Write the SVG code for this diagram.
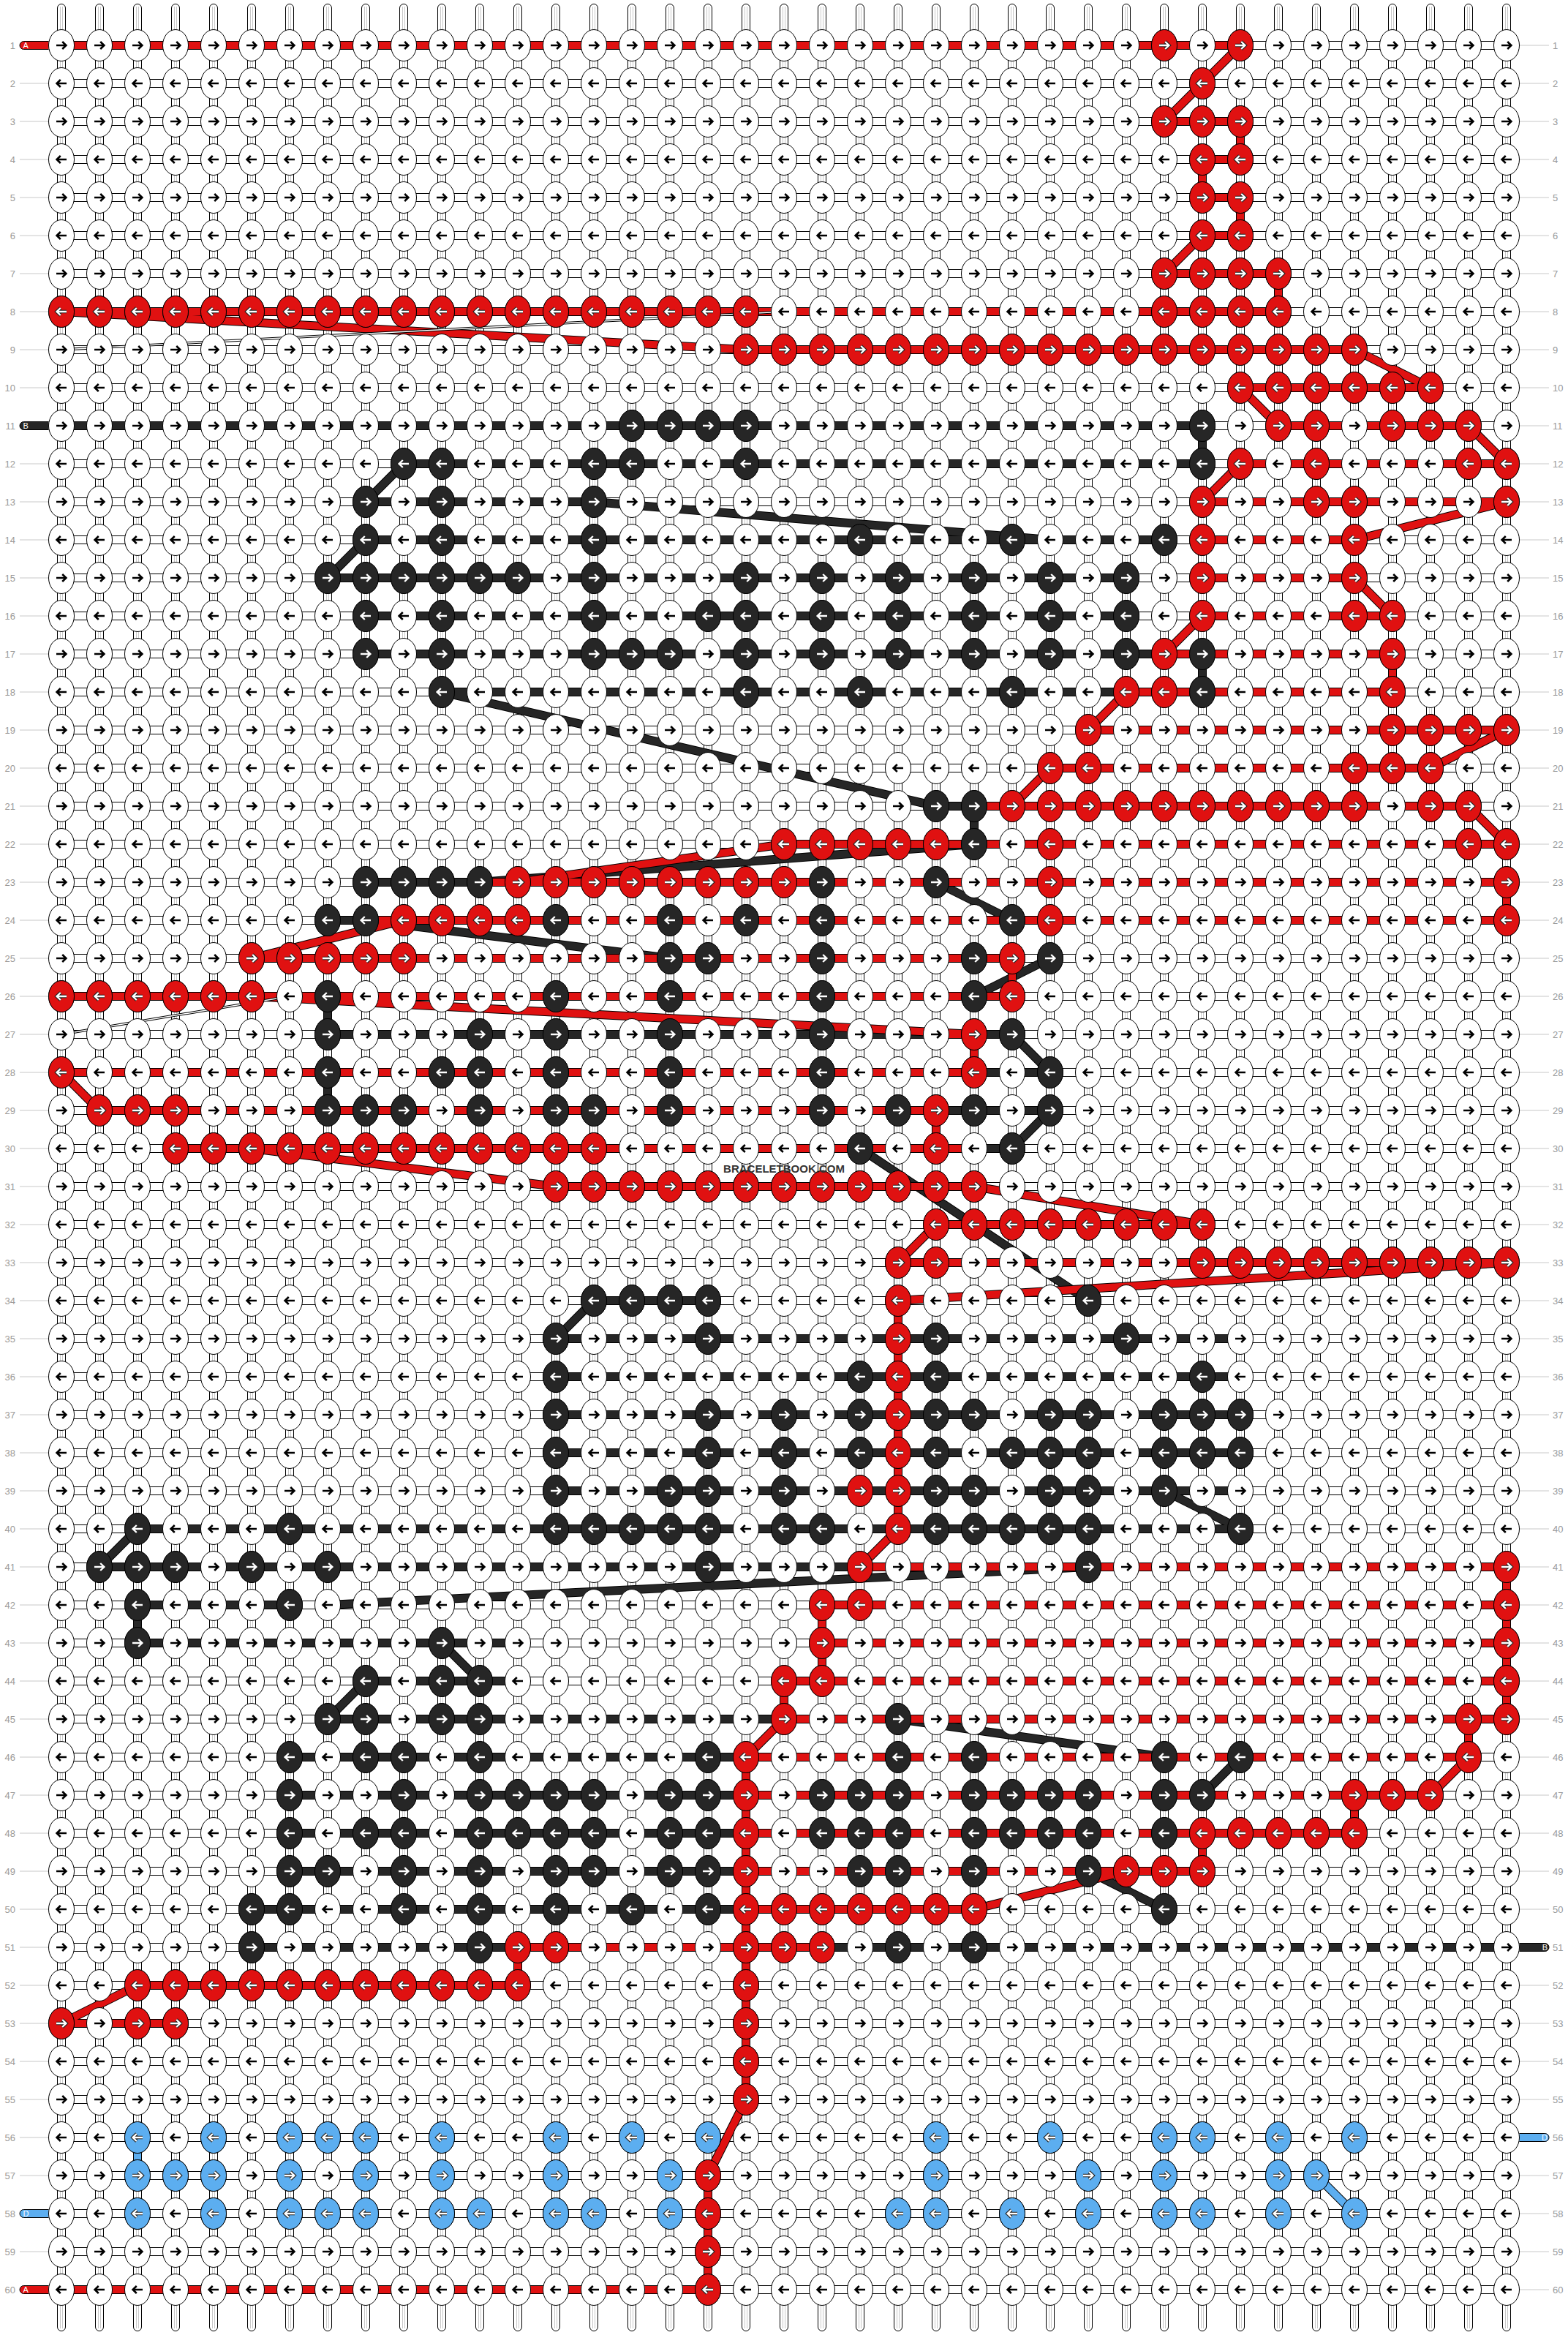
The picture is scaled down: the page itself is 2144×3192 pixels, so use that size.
<svg xmlns="http://www.w3.org/2000/svg" width="2144" height="3192" viewBox="0 0 2144 3192">
<style>
.lbl{font-family:"Liberation Sans",Arial,sans-serif;font-size:13px;fill:#9a9a9a}
.le{text-anchor:end}
.o{fill:none;stroke:#000;stroke-width:12}
.cr{fill:none;stroke:#e01111;stroke-width:10}
.ck{fill:none;stroke:#262626;stroke-width:10}
.cb{fill:none;stroke:#5caef0;stroke-width:10}
.ot{fill:none;stroke:#000;stroke-width:3.5}
.cw{fill:none;stroke:#fff;stroke-width:1.5}
.kn{stroke:#000;stroke-width:1}
.fr{fill:#e01111}.fk{fill:#262626}.fb{fill:#5caef0}
.ao{fill:none;stroke:#222;stroke-width:4.6}
.aw{fill:none;stroke:#fff;stroke-width:2.4}
.ab{fill:none;stroke:#000;stroke-width:2.6}
.tl{font-family:"Liberation Sans",Arial,sans-serif;font-size:11px;fill:#fff}
.wm{font-family:"Liberation Sans",Arial,sans-serif;font-weight:bold;font-size:15px;fill:#333;text-anchor:middle}
</style>
<defs>
<path id="ar" d="M-7,0H6M1.2,-5L6.4,0L1.2,5"/>
<path id="al" d="M7,0H-6M-1.2,-5L-6.4,0L-1.2,5"/>
<pattern id="pS" patternUnits="userSpaceOnUse" x="58" y="0" width="52" height="3192">
<rect x="20.5" y="5.5" width="11" height="3181" rx="5.5" fill="#fff" stroke="#000"/>
<path d="M24.5,9V3183M27.5,9V3183" stroke="#c8c8c8" fill="none"/>
</pattern>
<pattern id="pH" patternUnits="userSpaceOnUse" x="58" y="36" width="52" height="52">
<rect x="0" y="21" width="52" height="10" fill="#fff"/>
<path d="M0,20.5H52M0,31.5H52" stroke="#000" fill="none"/>
</pattern>
<pattern id="pK" patternUnits="userSpaceOnUse" x="58" y="36" width="52" height="104">
<ellipse cx="26" cy="26" rx="17.5" ry="21.5" fill="#fff" stroke="#000"/>
<use href="#ar" x="26" y="26" class="ab"/>
<ellipse cx="26" cy="78" rx="17.5" ry="21.5" fill="#fff" stroke="#000"/>
<use href="#al" x="26" y="78" class="ab"/>
</pattern>
<pattern id="pL" patternUnits="userSpaceOnUse" x="0" y="36" width="52" height="52">
<path d="M0,26H52" stroke="#c8c8c8" fill="none"/>
</pattern>
<g id="rR"><ellipse rx="17.5" ry="21.5" class="kn fr"/><use href="#ar" class="ao"/><use href="#ar" class="aw"/></g>
<g id="rL"><ellipse rx="17.5" ry="21.5" class="kn fr"/><use href="#al" class="ao"/><use href="#al" class="aw"/></g>
<g id="kR"><ellipse rx="17.5" ry="21.5" class="kn fk"/><use href="#ar" class="ao"/><use href="#ar" class="aw"/></g>
<g id="kL"><ellipse rx="17.5" ry="21.5" class="kn fk"/><use href="#al" class="ao"/><use href="#al" class="aw"/></g>
<g id="bR"><ellipse rx="17.5" ry="21.5" class="kn fb"/><use href="#ar" class="ao"/><use href="#ar" class="aw"/></g>
<g id="bL"><ellipse rx="17.5" ry="21.5" class="kn fb"/><use href="#al" class="ao"/><use href="#al" class="aw"/></g>
<path id="DK" d="M84,582H1644M552,634H1644M500,686H812M500,738H1592M448,790H1540M500,842H1540M500,894H1592M604,946H1540M1280,1102H1332M500,1206H656M448,1258H500M448,1414H1280M1332,1414H1384M1332,1466H1436M1280,1518H1436M1332,1570H1384M812,1778H968M760,1830H1696M760,1882H1696M760,1934H1696M760,1986H1696M760,2038H1696M188,2090H1696M136,2142H1488M188,2194H396M188,2246H708M500,2298H708M448,2350H1228M396,2402H1020M396,2454H1020M396,2506H1020M396,2558H1020M344,2610H1020M344,2662H708M1124,2662H2060M1644,582V634M1644,894V946M1332,1102V1154M448,1362V1414M448,1466V1518M188,2194V2246M500,686L552,634M448,790L500,738M812,686L1436,738M604,946L1280,1102M656,1206L1332,1154M1280,1206L1384,1258M500,1258L916,1310M1332,1362L1436,1310M1384,1414L1436,1466M1384,1570L1436,1518M1176,1570L1488,1778M760,1830L812,1778M136,2142L188,2090M448,2350L500,2298M604,2246L656,2298M448,2194L1488,2142M1592,2038L1696,2090M1644,2454L1696,2402M1488,2558L1592,2610M1228,2350L1592,2402"/>
<path id="DR" d="M84,62H1696M1592,166H1696M1644,218H1696M1644,270H1696M1644,322H1696M1592,374H1748M84,426H1748M1020,478H1852M1696,530H1956M1748,582H2008M1696,634H2060M1644,686H2060M1644,738H1852M1644,790H1852M1644,842H1904M1592,894H1904M1540,946H1904M1488,998H2060M1436,1050H1956M1332,1102H2008M1072,1154H2060M656,1206H2060M500,1258H2060M344,1310H1384M84,1362H1384M1280,1414H1332M84,1466H1332M136,1518H1280M240,1570H1332M760,1622H1332M1280,1674H1644M1228,1726H2060M1176,2142H2060M1124,2194H2060M1124,2246H2060M1072,2298H2060M1072,2350H2060M1020,2402H2008M1020,2454H1956M1020,2506H1852M1020,2558H1644M1020,2610H1332M708,2662H1124M188,2714H708M84,2766H240M84,3130H968M1696,166V218M1644,218V270M1696,270V322M1748,374V426M1904,894V946M2060,1206V1258M1384,1310V1362M1332,1414V1466M1280,1518V1570M1228,1778V2090M1124,2194V2298M1072,2298V2350M1020,2402V2870M968,2974V3130M1852,2454V2506M1644,2506V2558M2060,2142V2350M2008,2350V2402M708,2662V2714M1696,62L1644,114M1644,114L1592,166M1644,322L1592,374M84,426L1020,478M1852,478L1956,530M1696,530L1748,582M2008,582L2060,634M1644,686L1696,634M1852,738L2060,686M1852,790L1904,842M1592,894L1644,842M1488,998L1540,946M1956,1050L2060,998M1384,1102L1436,1050M2008,1102L2060,1154M708,1206L1072,1154M344,1310L552,1258M344,1362L1332,1414M84,1466L136,1518M344,1570L760,1622M1228,1726L1280,1674M1332,1622L1644,1674M2060,1726L1228,1778M1228,2090L1176,2142M1072,2350L1020,2402M2008,2402L1956,2454M1540,2558L1332,2610M84,2766L188,2714M1020,2870L968,2974"/>
<path id="DB" d="M188,2922V2974M1800,2974L1852,3026"/>
<path id="DW" d="M84,478L1072,426M84,1414L396,1362"/>
</defs>
<rect width="2144" height="3192" fill="#fff"/>
<g id="strings">
<rect x="58" y="0" width="2028" height="3192" fill="url(#pS)"/>
<rect x="67" y="36" width="2010" height="3120" fill="url(#pH)"/>
<rect x="27" y="36" width="40" height="3120" fill="url(#pL)"/>
<rect x="2077" y="36" width="41" height="3120" fill="url(#pL)"/>
</g>
<g id="connectors">
<use href="#DK" class="o"/><use href="#DK" class="ck"/>
<use href="#DR" class="o"/><use href="#DR" class="cr"/>
<use href="#DB" class="o"/><use href="#DB" class="cb"/>
<use href="#DW" class="ot"/><use href="#DW" class="cw"/>
</g>
<g id="tabs">
<path d="M66.5,56.5H32.5A5.5,5.5 0 0 0 32.5,67.5H66.5" class="kn fr"/><text x="31.5" y="66" class="tl">A</text>
<path d="M66.5,576.5H32.5A5.5,5.5 0 0 0 32.5,587.5H66.5" class="kn fk"/><text x="31.5" y="586" class="tl">B</text>
<path d="M66.5,3020.5H32.5A5.5,5.5 0 0 0 32.5,3031.5H66.5" class="kn fb"/><text x="31.5" y="3030" class="tl">D</text>
<path d="M66.5,3124.5H32.5A5.5,5.5 0 0 0 32.5,3135.5H66.5" class="kn fr"/><text x="31.5" y="3134" class="tl">A</text>
<path d="M2077.5,2656.5H2112.5A5.5,5.5 0 0 1 2112.5,2667.5H2077.5" class="kn fk"/><text x="2116" y="2666" class="tl le">B</text>
<path d="M2077.5,2916.5H2112.5A5.5,5.5 0 0 1 2112.5,2927.5H2077.5" class="kn fb"/><text x="2116" y="2926" class="tl le">D</text>
</g>
<rect x="58" y="36" width="2028" height="3120" fill="url(#pK)"/>
<g id="knots-red">
<use href="#rR" x="1592" y="62"/><use href="#rR" x="1696" y="62"/>
<use href="#rL" x="1644" y="114"/>
<use href="#rR" x="1592" y="166"/><use href="#rR" x="1644" y="166"/><use href="#rR" x="1696" y="166"/>
<use href="#rL" x="1644" y="218"/><use href="#rL" x="1696" y="218"/>
<use href="#rR" x="1644" y="270"/><use href="#rR" x="1696" y="270"/>
<use href="#rL" x="1644" y="322"/><use href="#rL" x="1696" y="322"/>
<use href="#rR" x="1592" y="374"/><use href="#rR" x="1644" y="374"/><use href="#rR" x="1696" y="374"/><use href="#rR" x="1748" y="374"/>
<use href="#rL" x="84" y="426"/><use href="#rL" x="136" y="426"/><use href="#rL" x="188" y="426"/><use href="#rL" x="240" y="426"/><use href="#rL" x="292" y="426"/><use href="#rL" x="344" y="426"/><use href="#rL" x="396" y="426"/><use href="#rL" x="448" y="426"/><use href="#rL" x="500" y="426"/><use href="#rL" x="552" y="426"/><use href="#rL" x="604" y="426"/><use href="#rL" x="656" y="426"/><use href="#rL" x="708" y="426"/><use href="#rL" x="760" y="426"/><use href="#rL" x="812" y="426"/><use href="#rL" x="864" y="426"/><use href="#rL" x="916" y="426"/><use href="#rL" x="968" y="426"/><use href="#rL" x="1020" y="426"/><use href="#rL" x="1592" y="426"/><use href="#rL" x="1644" y="426"/><use href="#rL" x="1696" y="426"/><use href="#rL" x="1748" y="426"/>
<use href="#rR" x="1020" y="478"/><use href="#rR" x="1072" y="478"/><use href="#rR" x="1124" y="478"/><use href="#rR" x="1176" y="478"/><use href="#rR" x="1228" y="478"/><use href="#rR" x="1280" y="478"/><use href="#rR" x="1332" y="478"/><use href="#rR" x="1384" y="478"/><use href="#rR" x="1436" y="478"/><use href="#rR" x="1488" y="478"/><use href="#rR" x="1540" y="478"/><use href="#rR" x="1592" y="478"/><use href="#rR" x="1644" y="478"/><use href="#rR" x="1696" y="478"/><use href="#rR" x="1748" y="478"/><use href="#rR" x="1800" y="478"/><use href="#rR" x="1852" y="478"/>
<use href="#rL" x="1696" y="530"/><use href="#rL" x="1748" y="530"/><use href="#rL" x="1800" y="530"/><use href="#rL" x="1852" y="530"/><use href="#rL" x="1904" y="530"/><use href="#rL" x="1956" y="530"/>
<use href="#rR" x="1748" y="582"/><use href="#rR" x="1800" y="582"/><use href="#rR" x="1904" y="582"/><use href="#rR" x="1956" y="582"/><use href="#rR" x="2008" y="582"/>
<use href="#rL" x="1696" y="634"/><use href="#rL" x="1800" y="634"/><use href="#rL" x="2008" y="634"/><use href="#rL" x="2060" y="634"/>
<use href="#rR" x="1644" y="686"/><use href="#rR" x="1800" y="686"/><use href="#rR" x="1852" y="686"/><use href="#rR" x="2060" y="686"/>
<use href="#rL" x="1644" y="738"/><use href="#rL" x="1852" y="738"/>
<use href="#rR" x="1644" y="790"/><use href="#rR" x="1852" y="790"/>
<use href="#rL" x="1644" y="842"/><use href="#rL" x="1852" y="842"/><use href="#rL" x="1904" y="842"/>
<use href="#rR" x="1592" y="894"/><use href="#rR" x="1904" y="894"/>
<use href="#rL" x="1540" y="946"/><use href="#rL" x="1592" y="946"/><use href="#rL" x="1904" y="946"/>
<use href="#rR" x="1488" y="998"/><use href="#rR" x="1904" y="998"/><use href="#rR" x="1956" y="998"/><use href="#rR" x="2008" y="998"/><use href="#rR" x="2060" y="998"/>
<use href="#rL" x="1436" y="1050"/><use href="#rL" x="1488" y="1050"/><use href="#rL" x="1852" y="1050"/><use href="#rL" x="1904" y="1050"/><use href="#rL" x="1956" y="1050"/>
<use href="#rR" x="1384" y="1102"/><use href="#rR" x="1436" y="1102"/><use href="#rR" x="1488" y="1102"/><use href="#rR" x="1540" y="1102"/><use href="#rR" x="1592" y="1102"/><use href="#rR" x="1644" y="1102"/><use href="#rR" x="1696" y="1102"/><use href="#rR" x="1748" y="1102"/><use href="#rR" x="1800" y="1102"/><use href="#rR" x="1852" y="1102"/><use href="#rR" x="1956" y="1102"/><use href="#rR" x="2008" y="1102"/>
<use href="#rL" x="1072" y="1154"/><use href="#rL" x="1124" y="1154"/><use href="#rL" x="1176" y="1154"/><use href="#rL" x="1228" y="1154"/><use href="#rL" x="1280" y="1154"/><use href="#rL" x="1436" y="1154"/><use href="#rL" x="2008" y="1154"/><use href="#rL" x="2060" y="1154"/>
<use href="#rR" x="708" y="1206"/><use href="#rR" x="760" y="1206"/><use href="#rR" x="812" y="1206"/><use href="#rR" x="864" y="1206"/><use href="#rR" x="916" y="1206"/><use href="#rR" x="968" y="1206"/><use href="#rR" x="1020" y="1206"/><use href="#rR" x="1072" y="1206"/><use href="#rR" x="1436" y="1206"/><use href="#rR" x="2060" y="1206"/>
<use href="#rL" x="552" y="1258"/><use href="#rL" x="604" y="1258"/><use href="#rL" x="656" y="1258"/><use href="#rL" x="708" y="1258"/><use href="#rL" x="1436" y="1258"/><use href="#rL" x="2060" y="1258"/>
<use href="#rR" x="344" y="1310"/><use href="#rR" x="396" y="1310"/><use href="#rR" x="448" y="1310"/><use href="#rR" x="500" y="1310"/><use href="#rR" x="552" y="1310"/><use href="#rR" x="1384" y="1310"/>
<use href="#rL" x="84" y="1362"/><use href="#rL" x="136" y="1362"/><use href="#rL" x="188" y="1362"/><use href="#rL" x="240" y="1362"/><use href="#rL" x="292" y="1362"/><use href="#rL" x="344" y="1362"/><use href="#rL" x="1384" y="1362"/>
<use href="#rR" x="1332" y="1414"/>
<use href="#rL" x="84" y="1466"/><use href="#rL" x="1332" y="1466"/>
<use href="#rR" x="136" y="1518"/><use href="#rR" x="188" y="1518"/><use href="#rR" x="240" y="1518"/><use href="#rR" x="1280" y="1518"/>
<use href="#rL" x="240" y="1570"/><use href="#rL" x="292" y="1570"/><use href="#rL" x="344" y="1570"/><use href="#rL" x="396" y="1570"/><use href="#rL" x="448" y="1570"/><use href="#rL" x="500" y="1570"/><use href="#rL" x="552" y="1570"/><use href="#rL" x="604" y="1570"/><use href="#rL" x="656" y="1570"/><use href="#rL" x="708" y="1570"/><use href="#rL" x="760" y="1570"/><use href="#rL" x="812" y="1570"/><use href="#rL" x="1280" y="1570"/>
<use href="#rR" x="760" y="1622"/><use href="#rR" x="812" y="1622"/><use href="#rR" x="864" y="1622"/><use href="#rR" x="916" y="1622"/><use href="#rR" x="968" y="1622"/><use href="#rR" x="1020" y="1622"/><use href="#rR" x="1072" y="1622"/><use href="#rR" x="1124" y="1622"/><use href="#rR" x="1176" y="1622"/><use href="#rR" x="1228" y="1622"/><use href="#rR" x="1280" y="1622"/><use href="#rR" x="1332" y="1622"/>
<use href="#rL" x="1280" y="1674"/><use href="#rL" x="1332" y="1674"/><use href="#rL" x="1384" y="1674"/><use href="#rL" x="1436" y="1674"/><use href="#rL" x="1488" y="1674"/><use href="#rL" x="1540" y="1674"/><use href="#rL" x="1592" y="1674"/><use href="#rL" x="1644" y="1674"/>
<use href="#rR" x="1228" y="1726"/><use href="#rR" x="1280" y="1726"/><use href="#rR" x="1644" y="1726"/><use href="#rR" x="1696" y="1726"/><use href="#rR" x="1748" y="1726"/><use href="#rR" x="1800" y="1726"/><use href="#rR" x="1852" y="1726"/><use href="#rR" x="1904" y="1726"/><use href="#rR" x="1956" y="1726"/><use href="#rR" x="2008" y="1726"/><use href="#rR" x="2060" y="1726"/>
<use href="#rL" x="1228" y="1778"/>
<use href="#rR" x="1228" y="1830"/>
<use href="#rL" x="1228" y="1882"/>
<use href="#rR" x="1228" y="1934"/>
<use href="#rL" x="1228" y="1986"/>
<use href="#rR" x="1176" y="2038"/><use href="#rR" x="1228" y="2038"/>
<use href="#rL" x="1228" y="2090"/>
<use href="#rR" x="1176" y="2142"/><use href="#rR" x="2060" y="2142"/>
<use href="#rL" x="1124" y="2194"/><use href="#rL" x="1176" y="2194"/><use href="#rL" x="2060" y="2194"/>
<use href="#rR" x="1124" y="2246"/><use href="#rR" x="2060" y="2246"/>
<use href="#rL" x="1072" y="2298"/><use href="#rL" x="1124" y="2298"/><use href="#rL" x="2060" y="2298"/>
<use href="#rR" x="1072" y="2350"/><use href="#rR" x="2008" y="2350"/><use href="#rR" x="2060" y="2350"/>
<use href="#rL" x="1020" y="2402"/><use href="#rL" x="2008" y="2402"/>
<use href="#rR" x="1020" y="2454"/><use href="#rR" x="1852" y="2454"/><use href="#rR" x="1904" y="2454"/><use href="#rR" x="1956" y="2454"/>
<use href="#rL" x="1020" y="2506"/><use href="#rL" x="1644" y="2506"/><use href="#rL" x="1696" y="2506"/><use href="#rL" x="1748" y="2506"/><use href="#rL" x="1800" y="2506"/><use href="#rL" x="1852" y="2506"/>
<use href="#rR" x="1020" y="2558"/><use href="#rR" x="1540" y="2558"/><use href="#rR" x="1592" y="2558"/><use href="#rR" x="1644" y="2558"/>
<use href="#rL" x="1020" y="2610"/><use href="#rL" x="1072" y="2610"/><use href="#rL" x="1124" y="2610"/><use href="#rL" x="1176" y="2610"/><use href="#rL" x="1228" y="2610"/><use href="#rL" x="1280" y="2610"/><use href="#rL" x="1332" y="2610"/>
<use href="#rR" x="708" y="2662"/><use href="#rR" x="760" y="2662"/><use href="#rR" x="1020" y="2662"/><use href="#rR" x="1072" y="2662"/><use href="#rR" x="1124" y="2662"/>
<use href="#rL" x="188" y="2714"/><use href="#rL" x="240" y="2714"/><use href="#rL" x="292" y="2714"/><use href="#rL" x="344" y="2714"/><use href="#rL" x="396" y="2714"/><use href="#rL" x="448" y="2714"/><use href="#rL" x="500" y="2714"/><use href="#rL" x="552" y="2714"/><use href="#rL" x="604" y="2714"/><use href="#rL" x="656" y="2714"/><use href="#rL" x="708" y="2714"/><use href="#rL" x="1020" y="2714"/>
<use href="#rR" x="84" y="2766"/><use href="#rR" x="188" y="2766"/><use href="#rR" x="240" y="2766"/><use href="#rR" x="1020" y="2766"/>
<use href="#rL" x="1020" y="2818"/>
<use href="#rR" x="1020" y="2870"/>
<use href="#rR" x="968" y="2974"/>
<use href="#rL" x="968" y="3026"/>
<use href="#rR" x="968" y="3078"/>
<use href="#rL" x="968" y="3130"/>
</g>
<g id="knots-black">
<use href="#kR" x="864" y="582"/><use href="#kR" x="916" y="582"/><use href="#kR" x="968" y="582"/><use href="#kR" x="1020" y="582"/><use href="#kR" x="1644" y="582"/>
<use href="#kL" x="552" y="634"/><use href="#kL" x="604" y="634"/><use href="#kL" x="812" y="634"/><use href="#kL" x="864" y="634"/><use href="#kL" x="1020" y="634"/><use href="#kL" x="1644" y="634"/>
<use href="#kR" x="500" y="686"/><use href="#kR" x="604" y="686"/><use href="#kR" x="812" y="686"/>
<use href="#kL" x="500" y="738"/><use href="#kL" x="604" y="738"/><use href="#kL" x="812" y="738"/><use href="#kL" x="1176" y="738"/><use href="#kL" x="1384" y="738"/><use href="#kL" x="1592" y="738"/>
<use href="#kR" x="448" y="790"/><use href="#kR" x="500" y="790"/><use href="#kR" x="552" y="790"/><use href="#kR" x="604" y="790"/><use href="#kR" x="656" y="790"/><use href="#kR" x="708" y="790"/><use href="#kR" x="812" y="790"/><use href="#kR" x="1020" y="790"/><use href="#kR" x="1124" y="790"/><use href="#kR" x="1228" y="790"/><use href="#kR" x="1332" y="790"/><use href="#kR" x="1436" y="790"/><use href="#kR" x="1540" y="790"/>
<use href="#kL" x="500" y="842"/><use href="#kL" x="604" y="842"/><use href="#kL" x="812" y="842"/><use href="#kL" x="968" y="842"/><use href="#kL" x="1020" y="842"/><use href="#kL" x="1124" y="842"/><use href="#kL" x="1228" y="842"/><use href="#kL" x="1332" y="842"/><use href="#kL" x="1436" y="842"/><use href="#kL" x="1540" y="842"/>
<use href="#kR" x="500" y="894"/><use href="#kR" x="604" y="894"/><use href="#kR" x="812" y="894"/><use href="#kR" x="864" y="894"/><use href="#kR" x="916" y="894"/><use href="#kR" x="1020" y="894"/><use href="#kR" x="1124" y="894"/><use href="#kR" x="1228" y="894"/><use href="#kR" x="1332" y="894"/><use href="#kR" x="1436" y="894"/><use href="#kR" x="1540" y="894"/><use href="#kR" x="1644" y="894"/>
<use href="#kL" x="604" y="946"/><use href="#kL" x="1020" y="946"/><use href="#kL" x="1176" y="946"/><use href="#kL" x="1384" y="946"/><use href="#kL" x="1644" y="946"/>
<use href="#kR" x="1280" y="1102"/><use href="#kR" x="1332" y="1102"/>
<use href="#kL" x="1332" y="1154"/>
<use href="#kR" x="500" y="1206"/><use href="#kR" x="552" y="1206"/><use href="#kR" x="604" y="1206"/><use href="#kR" x="656" y="1206"/><use href="#kR" x="1124" y="1206"/><use href="#kR" x="1280" y="1206"/>
<use href="#kL" x="448" y="1258"/><use href="#kL" x="500" y="1258"/><use href="#kL" x="760" y="1258"/><use href="#kL" x="916" y="1258"/><use href="#kL" x="1020" y="1258"/><use href="#kL" x="1124" y="1258"/><use href="#kL" x="1384" y="1258"/>
<use href="#kR" x="916" y="1310"/><use href="#kR" x="968" y="1310"/><use href="#kR" x="1124" y="1310"/><use href="#kR" x="1332" y="1310"/><use href="#kR" x="1436" y="1310"/>
<use href="#kL" x="448" y="1362"/><use href="#kL" x="760" y="1362"/><use href="#kL" x="916" y="1362"/><use href="#kL" x="1124" y="1362"/><use href="#kL" x="1332" y="1362"/>
<use href="#kR" x="448" y="1414"/><use href="#kR" x="656" y="1414"/><use href="#kR" x="760" y="1414"/><use href="#kR" x="916" y="1414"/><use href="#kR" x="1124" y="1414"/><use href="#kR" x="1384" y="1414"/>
<use href="#kL" x="448" y="1466"/><use href="#kL" x="604" y="1466"/><use href="#kL" x="656" y="1466"/><use href="#kL" x="760" y="1466"/><use href="#kL" x="916" y="1466"/><use href="#kL" x="1124" y="1466"/><use href="#kL" x="1436" y="1466"/>
<use href="#kR" x="448" y="1518"/><use href="#kR" x="500" y="1518"/><use href="#kR" x="552" y="1518"/><use href="#kR" x="656" y="1518"/><use href="#kR" x="760" y="1518"/><use href="#kR" x="812" y="1518"/><use href="#kR" x="916" y="1518"/><use href="#kR" x="1124" y="1518"/><use href="#kR" x="1228" y="1518"/><use href="#kR" x="1332" y="1518"/><use href="#kR" x="1436" y="1518"/>
<use href="#kL" x="1176" y="1570"/><use href="#kL" x="1384" y="1570"/>
<use href="#kL" x="812" y="1778"/><use href="#kL" x="864" y="1778"/><use href="#kL" x="916" y="1778"/><use href="#kL" x="968" y="1778"/><use href="#kL" x="1488" y="1778"/>
<use href="#kR" x="760" y="1830"/><use href="#kR" x="968" y="1830"/><use href="#kR" x="1280" y="1830"/><use href="#kR" x="1540" y="1830"/>
<use href="#kL" x="760" y="1882"/><use href="#kL" x="1176" y="1882"/><use href="#kL" x="1280" y="1882"/><use href="#kL" x="1644" y="1882"/>
<use href="#kR" x="760" y="1934"/><use href="#kR" x="968" y="1934"/><use href="#kR" x="1072" y="1934"/><use href="#kR" x="1176" y="1934"/><use href="#kR" x="1280" y="1934"/><use href="#kR" x="1332" y="1934"/><use href="#kR" x="1436" y="1934"/><use href="#kR" x="1488" y="1934"/><use href="#kR" x="1592" y="1934"/><use href="#kR" x="1644" y="1934"/><use href="#kR" x="1696" y="1934"/>
<use href="#kL" x="760" y="1986"/><use href="#kL" x="968" y="1986"/><use href="#kL" x="1072" y="1986"/><use href="#kL" x="1176" y="1986"/><use href="#kL" x="1280" y="1986"/><use href="#kL" x="1384" y="1986"/><use href="#kL" x="1436" y="1986"/><use href="#kL" x="1488" y="1986"/><use href="#kL" x="1592" y="1986"/><use href="#kL" x="1644" y="1986"/><use href="#kL" x="1696" y="1986"/>
<use href="#kR" x="760" y="2038"/><use href="#kR" x="916" y="2038"/><use href="#kR" x="968" y="2038"/><use href="#kR" x="1072" y="2038"/><use href="#kR" x="1280" y="2038"/><use href="#kR" x="1332" y="2038"/><use href="#kR" x="1436" y="2038"/><use href="#kR" x="1488" y="2038"/><use href="#kR" x="1592" y="2038"/>
<use href="#kL" x="188" y="2090"/><use href="#kL" x="396" y="2090"/><use href="#kL" x="760" y="2090"/><use href="#kL" x="812" y="2090"/><use href="#kL" x="864" y="2090"/><use href="#kL" x="916" y="2090"/><use href="#kL" x="968" y="2090"/><use href="#kL" x="1072" y="2090"/><use href="#kL" x="1124" y="2090"/><use href="#kL" x="1280" y="2090"/><use href="#kL" x="1332" y="2090"/><use href="#kL" x="1384" y="2090"/><use href="#kL" x="1436" y="2090"/><use href="#kL" x="1488" y="2090"/><use href="#kL" x="1696" y="2090"/>
<use href="#kR" x="136" y="2142"/><use href="#kR" x="188" y="2142"/><use href="#kR" x="240" y="2142"/><use href="#kR" x="344" y="2142"/><use href="#kR" x="448" y="2142"/><use href="#kR" x="968" y="2142"/><use href="#kR" x="1488" y="2142"/>
<use href="#kL" x="188" y="2194"/><use href="#kL" x="396" y="2194"/>
<use href="#kR" x="188" y="2246"/><use href="#kR" x="604" y="2246"/>
<use href="#kL" x="500" y="2298"/><use href="#kL" x="604" y="2298"/><use href="#kL" x="656" y="2298"/>
<use href="#kR" x="448" y="2350"/><use href="#kR" x="500" y="2350"/><use href="#kR" x="604" y="2350"/><use href="#kR" x="656" y="2350"/><use href="#kR" x="1228" y="2350"/>
<use href="#kL" x="396" y="2402"/><use href="#kL" x="500" y="2402"/><use href="#kL" x="552" y="2402"/><use href="#kL" x="656" y="2402"/><use href="#kL" x="968" y="2402"/><use href="#kL" x="1228" y="2402"/><use href="#kL" x="1332" y="2402"/><use href="#kL" x="1592" y="2402"/><use href="#kL" x="1696" y="2402"/>
<use href="#kR" x="396" y="2454"/><use href="#kR" x="552" y="2454"/><use href="#kR" x="656" y="2454"/><use href="#kR" x="708" y="2454"/><use href="#kR" x="760" y="2454"/><use href="#kR" x="812" y="2454"/><use href="#kR" x="916" y="2454"/><use href="#kR" x="968" y="2454"/><use href="#kR" x="1124" y="2454"/><use href="#kR" x="1176" y="2454"/><use href="#kR" x="1228" y="2454"/><use href="#kR" x="1332" y="2454"/><use href="#kR" x="1384" y="2454"/><use href="#kR" x="1436" y="2454"/><use href="#kR" x="1488" y="2454"/><use href="#kR" x="1592" y="2454"/><use href="#kR" x="1644" y="2454"/>
<use href="#kL" x="396" y="2506"/><use href="#kL" x="500" y="2506"/><use href="#kL" x="552" y="2506"/><use href="#kL" x="656" y="2506"/><use href="#kL" x="708" y="2506"/><use href="#kL" x="760" y="2506"/><use href="#kL" x="812" y="2506"/><use href="#kL" x="916" y="2506"/><use href="#kL" x="968" y="2506"/><use href="#kL" x="1124" y="2506"/><use href="#kL" x="1176" y="2506"/><use href="#kL" x="1228" y="2506"/><use href="#kL" x="1332" y="2506"/><use href="#kL" x="1384" y="2506"/><use href="#kL" x="1436" y="2506"/><use href="#kL" x="1488" y="2506"/><use href="#kL" x="1592" y="2506"/>
<use href="#kR" x="396" y="2558"/><use href="#kR" x="448" y="2558"/><use href="#kR" x="552" y="2558"/><use href="#kR" x="656" y="2558"/><use href="#kR" x="760" y="2558"/><use href="#kR" x="812" y="2558"/><use href="#kR" x="916" y="2558"/><use href="#kR" x="968" y="2558"/><use href="#kR" x="1176" y="2558"/><use href="#kR" x="1228" y="2558"/><use href="#kR" x="1332" y="2558"/><use href="#kR" x="1488" y="2558"/>
<use href="#kL" x="344" y="2610"/><use href="#kL" x="396" y="2610"/><use href="#kL" x="552" y="2610"/><use href="#kL" x="656" y="2610"/><use href="#kL" x="760" y="2610"/><use href="#kL" x="864" y="2610"/><use href="#kL" x="968" y="2610"/><use href="#kL" x="1592" y="2610"/>
<use href="#kR" x="344" y="2662"/><use href="#kR" x="656" y="2662"/><use href="#kR" x="1228" y="2662"/><use href="#kR" x="1332" y="2662"/>
</g>
<g id="knots-blue">
<use href="#bL" x="188" y="2922"/><use href="#bL" x="292" y="2922"/><use href="#bL" x="396" y="2922"/><use href="#bL" x="448" y="2922"/><use href="#bL" x="500" y="2922"/><use href="#bL" x="604" y="2922"/><use href="#bL" x="760" y="2922"/><use href="#bL" x="864" y="2922"/><use href="#bL" x="968" y="2922"/><use href="#bL" x="1280" y="2922"/><use href="#bL" x="1436" y="2922"/><use href="#bL" x="1592" y="2922"/><use href="#bL" x="1644" y="2922"/><use href="#bL" x="1748" y="2922"/><use href="#bL" x="1852" y="2922"/>
<use href="#bR" x="188" y="2974"/><use href="#bR" x="240" y="2974"/><use href="#bR" x="292" y="2974"/><use href="#bR" x="396" y="2974"/><use href="#bR" x="500" y="2974"/><use href="#bR" x="604" y="2974"/><use href="#bR" x="760" y="2974"/><use href="#bR" x="916" y="2974"/><use href="#bR" x="1280" y="2974"/><use href="#bR" x="1488" y="2974"/><use href="#bR" x="1592" y="2974"/><use href="#bR" x="1748" y="2974"/><use href="#bR" x="1800" y="2974"/>
<use href="#bL" x="188" y="3026"/><use href="#bL" x="292" y="3026"/><use href="#bL" x="396" y="3026"/><use href="#bL" x="448" y="3026"/><use href="#bL" x="500" y="3026"/><use href="#bL" x="604" y="3026"/><use href="#bL" x="656" y="3026"/><use href="#bL" x="760" y="3026"/><use href="#bL" x="812" y="3026"/><use href="#bL" x="916" y="3026"/><use href="#bL" x="1228" y="3026"/><use href="#bL" x="1280" y="3026"/><use href="#bL" x="1384" y="3026"/><use href="#bL" x="1488" y="3026"/><use href="#bL" x="1592" y="3026"/><use href="#bL" x="1644" y="3026"/><use href="#bL" x="1748" y="3026"/><use href="#bL" x="1852" y="3026"/>
</g>
<text x="1072" y="1603" class="wm">BRACELETBOOK.COM</text>
<g id="labels-left" class="lbl le">
<text x="21" y="67">1</text><text x="21" y="119">2</text><text x="21" y="171">3</text><text x="21" y="223">4</text><text x="21" y="275">5</text><text x="21" y="327">6</text><text x="21" y="379">7</text><text x="21" y="431">8</text><text x="21" y="483">9</text><text x="21" y="535">10</text><text x="21" y="587">11</text><text x="21" y="639">12</text><text x="21" y="691">13</text><text x="21" y="743">14</text><text x="21" y="795">15</text><text x="21" y="847">16</text><text x="21" y="899">17</text><text x="21" y="951">18</text><text x="21" y="1003">19</text><text x="21" y="1055">20</text><text x="21" y="1107">21</text><text x="21" y="1159">22</text><text x="21" y="1211">23</text><text x="21" y="1263">24</text><text x="21" y="1315">25</text><text x="21" y="1367">26</text><text x="21" y="1419">27</text><text x="21" y="1471">28</text><text x="21" y="1523">29</text><text x="21" y="1575">30</text><text x="21" y="1627">31</text><text x="21" y="1679">32</text><text x="21" y="1731">33</text><text x="21" y="1783">34</text><text x="21" y="1835">35</text><text x="21" y="1887">36</text><text x="21" y="1939">37</text><text x="21" y="1991">38</text><text x="21" y="2043">39</text><text x="21" y="2095">40</text><text x="21" y="2147">41</text><text x="21" y="2199">42</text><text x="21" y="2251">43</text><text x="21" y="2303">44</text><text x="21" y="2355">45</text><text x="21" y="2407">46</text><text x="21" y="2459">47</text><text x="21" y="2511">48</text><text x="21" y="2563">49</text><text x="21" y="2615">50</text><text x="21" y="2667">51</text><text x="21" y="2719">52</text><text x="21" y="2771">53</text><text x="21" y="2823">54</text><text x="21" y="2875">55</text><text x="21" y="2927">56</text><text x="21" y="2979">57</text><text x="21" y="3031">58</text><text x="21" y="3083">59</text><text x="21" y="3135">60</text>
</g>
<g id="labels-right" class="lbl">
<text x="2123" y="67">1</text><text x="2123" y="119">2</text><text x="2123" y="171">3</text><text x="2123" y="223">4</text><text x="2123" y="275">5</text><text x="2123" y="327">6</text><text x="2123" y="379">7</text><text x="2123" y="431">8</text><text x="2123" y="483">9</text><text x="2123" y="535">10</text><text x="2123" y="587">11</text><text x="2123" y="639">12</text><text x="2123" y="691">13</text><text x="2123" y="743">14</text><text x="2123" y="795">15</text><text x="2123" y="847">16</text><text x="2123" y="899">17</text><text x="2123" y="951">18</text><text x="2123" y="1003">19</text><text x="2123" y="1055">20</text><text x="2123" y="1107">21</text><text x="2123" y="1159">22</text><text x="2123" y="1211">23</text><text x="2123" y="1263">24</text><text x="2123" y="1315">25</text><text x="2123" y="1367">26</text><text x="2123" y="1419">27</text><text x="2123" y="1471">28</text><text x="2123" y="1523">29</text><text x="2123" y="1575">30</text><text x="2123" y="1627">31</text><text x="2123" y="1679">32</text><text x="2123" y="1731">33</text><text x="2123" y="1783">34</text><text x="2123" y="1835">35</text><text x="2123" y="1887">36</text><text x="2123" y="1939">37</text><text x="2123" y="1991">38</text><text x="2123" y="2043">39</text><text x="2123" y="2095">40</text><text x="2123" y="2147">41</text><text x="2123" y="2199">42</text><text x="2123" y="2251">43</text><text x="2123" y="2303">44</text><text x="2123" y="2355">45</text><text x="2123" y="2407">46</text><text x="2123" y="2459">47</text><text x="2123" y="2511">48</text><text x="2123" y="2563">49</text><text x="2123" y="2615">50</text><text x="2123" y="2667">51</text><text x="2123" y="2719">52</text><text x="2123" y="2771">53</text><text x="2123" y="2823">54</text><text x="2123" y="2875">55</text><text x="2123" y="2927">56</text><text x="2123" y="2979">57</text><text x="2123" y="3031">58</text><text x="2123" y="3083">59</text><text x="2123" y="3135">60</text>
</g>
</svg>
